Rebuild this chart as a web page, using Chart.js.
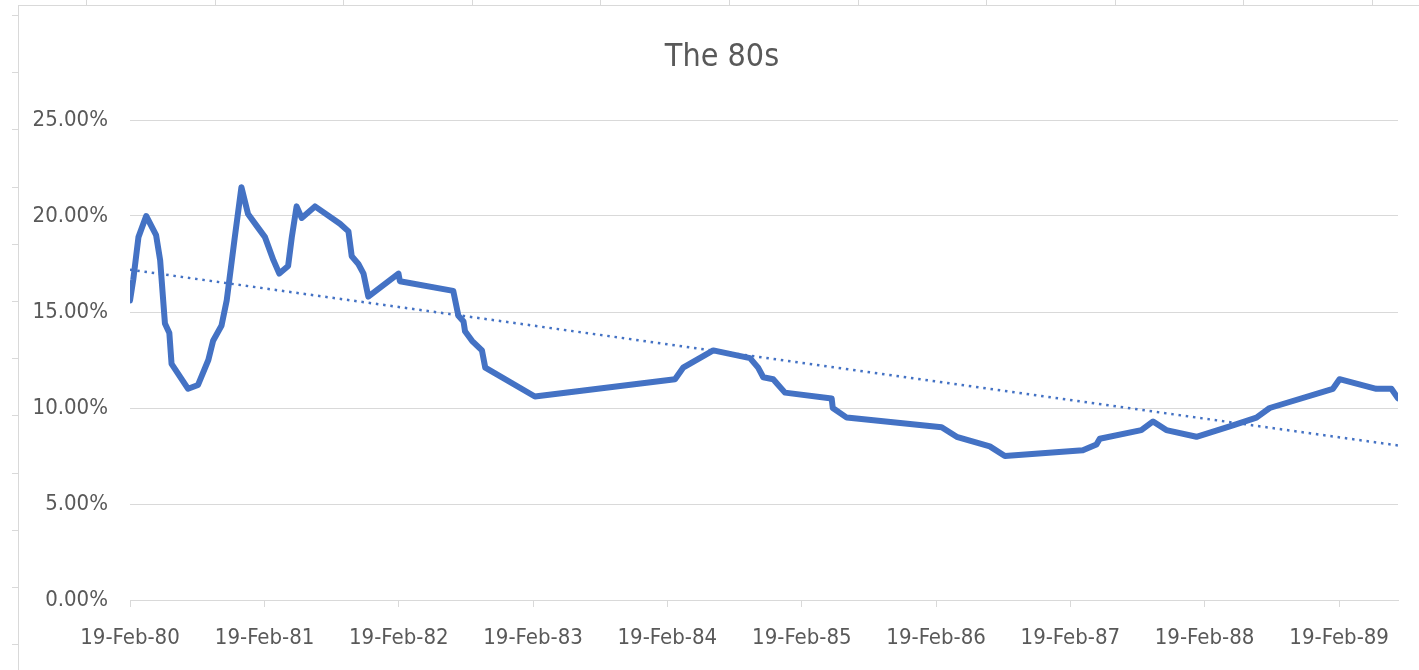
<!DOCTYPE html>
<html>
<head>
<meta charset="utf-8">
<title>The 80s</title>
<script src="https://cdn.jsdelivr.net/npm/chart.js@4.4.1/dist/chart.umd.min.js"></script>
<style>
    body { margin: 0; background: #ffffff; overflow: hidden; }
    #wrap { position: relative; width: 1419px; height: 670px; }
    #chart { position: absolute; left: 0; top: 0; }
    .frame { position: absolute; left: 18px; top: 5px; width: 1420px; height: 680px; border-left: 1px solid #d9d9d9; border-top: 1px solid #d9d9d9; pointer-events: none; }
    .col { position: absolute; top: 0; width: 1px; height: 5px; background: #d9d9d9; }
    .row { position: absolute; left: 12px; width: 6px; height: 1px; background: #d9d9d9; }
</style>
</head>
<body>
<div id="wrap">
    <canvas id="chart" width="1419" height="670"></canvas>
    <div class="frame"></div>
</div>
<script>
// Days after 19-Feb-1980 for each reading
const days = [0, 9, 23, 44, 71, 82, 95, 107, 113, 158, 185, 213, 226, 249, 263, 285, 303, 321, 344,
    367, 390, 406, 430, 440, 453, 467, 503, 571, 594, 603, 621, 635, 648, 730, 734,
    879, 893, 907, 911, 930, 957, 966, 1101, 1482, 1504, 1586, 1686, 1708, 1722, 1749, 1781,
    1908, 1911, 1949, 2207, 2248, 2338, 2379, 2591, 2628, 2637, 2750, 2782, 2818, 2900,
    2999, 3063, 3099, 3271, 3289, 3389, 3430, 3448];

// Rate in percent
const rates = [15.6, 16.7, 18.9, 20.0, 19.0, 17.7, 14.4, 13.9, 12.3, 11.0, 11.2, 12.5, 13.5, 14.3, 15.6, 18.9, 21.5, 20.1, 19.5,
    18.9, 17.7, 17.0, 17.4, 18.9, 20.5, 19.9, 20.5, 19.6, 19.2, 17.9, 17.5, 17.0, 15.8, 17.0, 16.6,
    16.1, 14.8, 14.5, 14.0, 13.5, 13.0, 12.1, 10.6, 11.5, 12.1, 13.0, 12.6, 12.1, 11.6, 11.5, 10.8,
    10.5, 10.0, 9.5, 9.0, 8.5, 8.0, 7.5, 7.8, 8.1, 8.4, 8.85, 9.3, 8.85, 8.5,
    9.1, 9.5, 10.0, 11.0, 11.5, 11.0, 11.0, 10.5];

// Linear trend end points
const trendDays = [0, 3448];
const trendRates = [17.2, 8.05];

// Axis settings
const tickYears = [1980, 1981, 1982, 1983, 1984, 1985, 1986, 1987, 1988, 1989];
const monthNames = ['Jan', 'Feb', 'Mar', 'Apr', 'May', 'Jun', 'Jul', 'Aug', 'Sep', 'Oct', 'Nov', 'Dec'];
const startTime = Date.UTC(1980, 1, 19);
const DAY = 86400000;

const FONT = "'Liberation Sans Narrow', 'DejaVu Sans Condensed', 'Liberation Sans', sans-serif";
const TEXT = '#595959';
const GRID = '#d9d9d9';
const BLUE = '#4472C4';

// spreadsheet cell borders around the chart object
(function() {
    const wrap = document.getElementById('wrap');
    for (let x = 86; x < 1419; x += 128.6) {
        const d = document.createElement('div');
        d.className = 'col';
        d.style.left = Math.round(x) + 'px';
        wrap.appendChild(d);
    }
    for (let y = 15; y < 670; y += 57.2) {
        const d = document.createElement('div');
        d.className = 'row';
        d.style.top = Math.round(y) + 'px';
        wrap.appendChild(d);
    }
})();

function formatDay(value) {
    const d = new Date(startTime + value * DAY);
    const yy = String(d.getUTCFullYear() % 100).padStart(2, '0');
    return d.getUTCDate() + '-' + monthNames[d.getUTCMonth()] + '-' + yy;
}

// Title is centred over the whole chart frame, not the canvas box
const frameTitle = {
    id: 'frameTitle',
    afterDraw: function(chart) {
        const c = chart.ctx;
        c.save();
        c.fillStyle = TEXT;
        c.font = '32px ' + FONT;
        c.textAlign = 'center';
        c.textBaseline = 'middle';
        c.fillText('The 80s', 722, 58);
        c.restore();
    }
};

const ctx = document.getElementById('chart').getContext('2d');

new Chart(ctx, {
    type: 'line',
    data: {
        datasets: [
            {
                label: 'Rate',
                data: days.map((d, i) => ({ x: d, y: rates[i] })),
                borderColor: BLUE,
                borderWidth: 6,
                borderJoinStyle: 'round',
                borderCapStyle: 'round',
                pointRadius: 0,
                tension: 0,
                fill: false
            },
            {
                label: 'Linear (Rate)',
                data: trendDays.map((d, i) => ({ x: d, y: trendRates[i] })),
                borderColor: BLUE,
                borderWidth: 2.5,
                borderDash: [2.5, 4.8],
                pointRadius: 0,
                tension: 0,
                fill: false
            }
        ]
    },
    options: {
        responsive: false,
        animation: false,
        layout: {
            padding: { left: 0, right: 21, top: 120, bottom: 0 }
        },
        plugins: {
            legend: { display: false },
            tooltip: { enabled: false },
            title: { display: false }
        },
        scales: {
            x: {
                type: 'linear',
                min: 0,
                max: 3448,
                afterBuildTicks: function(scale) {
                    scale.ticks = tickYears.map(y => ({ value: (Date.UTC(y, 1, 19) - startTime) / DAY }));
                },
                afterFit: function(scale) {
                    scale.height = 70;
                },
                grid: {
                    drawOnChartArea: false,
                    drawTicks: true,
                    tickLength: 7,
                    color: GRID
                },
                border: { display: true, color: GRID },
                ticks: {
                    autoSkip: false,
                    maxRotation: 0,
                    padding: 18,
                    color: TEXT,
                    font: { family: FONT, size: 22 },
                    callback: function(value) {
                        return formatDay(value);
                    }
                }
            },
            y: {
                min: 0,
                max: 25,
                afterFit: function(scale) {
                    scale.width = 130;
                },
                grid: {
                    color: GRID,
                    drawTicks: false
                },
                border: { display: false },
                ticks: {
                    stepSize: 5,
                    padding: 22,
                    color: TEXT,
                    font: { family: FONT, size: 22 },
                    callback: function(value) {
                        return value.toFixed(2) + '%';
                    }
                }
            }
        }
    },
    plugins: [frameTitle]
});
</script>
</body>
</html>
